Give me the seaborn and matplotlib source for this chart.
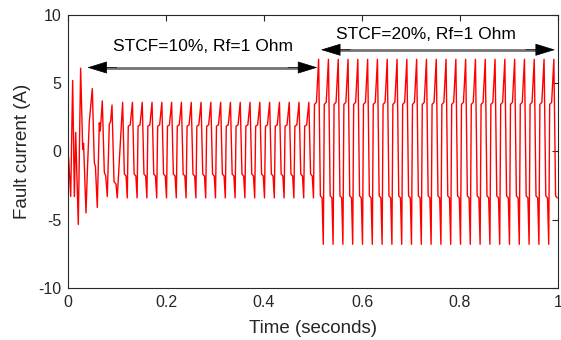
import numpy as np
import pandas as pd
import matplotlib
matplotlib.use("Agg")
import matplotlib.pyplot as plt
import seaborn as sns

# start-up transient, read point by point (seconds, amps)
transient_t = [0.0, 0.0015, 0.0055, 0.0095, 0.013, 0.0157, 0.021, 0.0258, 0.0300,
               0.0318, 0.0367, 0.0400, 0.0435, 0.0496, 0.0537, 0.0560, 0.0598,
               0.0639, 0.0659, 0.0700, 0.0741, 0.0770, 0.0802, 0.0843, 0.0870,
               0.0898, 0.0939, 0.0980, 0.1005]
transient_i = [0.0, -0.6, -3.3, 5.2, -3.3, 1.4, -5.35, 6.1, 0.15,
               0.6, -4.5, -1.0, 2.2, 4.6, -0.8, -1.1, -4.1,
               2.1, 1.5, 3.7, -1.5, -1.8, -3.3, 2.0, 2.2,
               3.4, -2.2, -2.4, -3.4]

# one steady-state cycle: offsets from the peak (s) and levels per fault case
PERIOD = 0.02
FIRST_PEAK = 0.1115
SWITCH_TIME = 0.502
cycle_offset = [0.0, 0.0035, 0.007, 0.0095, 0.0115, 0.0155]
levels_stcf10 = [3.6, -1.65, -1.8, -3.4, 1.85, 1.95]
levels_stcf20 = [6.75, -3.25, -3.4, -6.8, 3.45, 3.6]

x_ticks = [0, 0.2, 0.4, 0.6, 0.8, 1]
y_ticks = [-10, -5, 0, 5, 10]

label_10 = "STCF=10%, Rf=1 Ohm"
label_20 = "STCF=20%, Rf=1 Ohm"


def build_signal():
    t = list(transient_t)
    i = list(transient_i)
    peak = FIRST_PEAK
    while peak < 1.0:
        for off, lo, hi in zip(cycle_offset, levels_stcf10, levels_stcf20):
            tt = peak + off
            if tt > 1.0:
                break
            t.append(tt)
            i.append(lo if tt < SWITCH_TIME else hi)
        peak += PERIOD
    return pd.DataFrame({"time": t, "current": i})


df = build_signal()

sns.set_style("white")
plt.rcParams["font.family"] = ["Liberation Sans", "DejaVu Sans"]
plt.rcParams["axes.unicode_minus"] = False

fig = plt.figure(figsize=(5.61, 3.40), dpi=100)
ax = fig.add_axes([0.1212, 0.153, 0.8735, 0.803])

sns.lineplot(data=df, x="time", y="current", ax=ax, color="#ff0000",
             linewidth=1.0, sort=False, estimator=None)

ax.set_xlim(0, 1)
ax.set_ylim(-10, 10)
ax.set_xticks(x_ticks)
ax.set_xticklabels([f"{v:g}" for v in x_ticks])
ax.set_yticks(y_ticks)
ax.tick_params(direction="in", length=4, width=0.8, top=True, right=True,
               labelsize=11.5, colors="0.15", pad=5)
for s in ax.spines.values():
    s.set_color("0.15")
    s.set_linewidth(0.8)
ax.set_xlabel("Time (seconds)", fontsize=13.5, color="0.15", labelpad=7)
ax.set_ylabel("Fault current (A)", fontsize=13.5, color="0.15", labelpad=5)


def double_arrow(x0, x1, y):
    ax.plot([x0 + 0.03, x1 - 0.03], [y, y], color="0.45", lw=2.0,
            solid_capstyle="butt", zorder=4)
    for a, b in ((x0 + 0.06, x0), (x1 - 0.06, x1)):
        ax.annotate("", xy=(b, y), xytext=(a, y),
                    arrowprops=dict(arrowstyle="-|>,head_length=1.3,head_width=0.4",
                                    color="black", lw=0.5, shrinkA=0, shrinkB=0),
                    zorder=5)


double_arrow(0.0395, 0.509, 6.15)
ax.text(0.2745, 7.7, label_10, ha="center", va="center", fontsize=12.5, color="black")
double_arrow(0.516, 0.994, 7.45)
ax.text(0.73, 8.55, label_20, ha="center", va="center", fontsize=12.5, color="black")

fig.savefig("out.png", dpi=100)
